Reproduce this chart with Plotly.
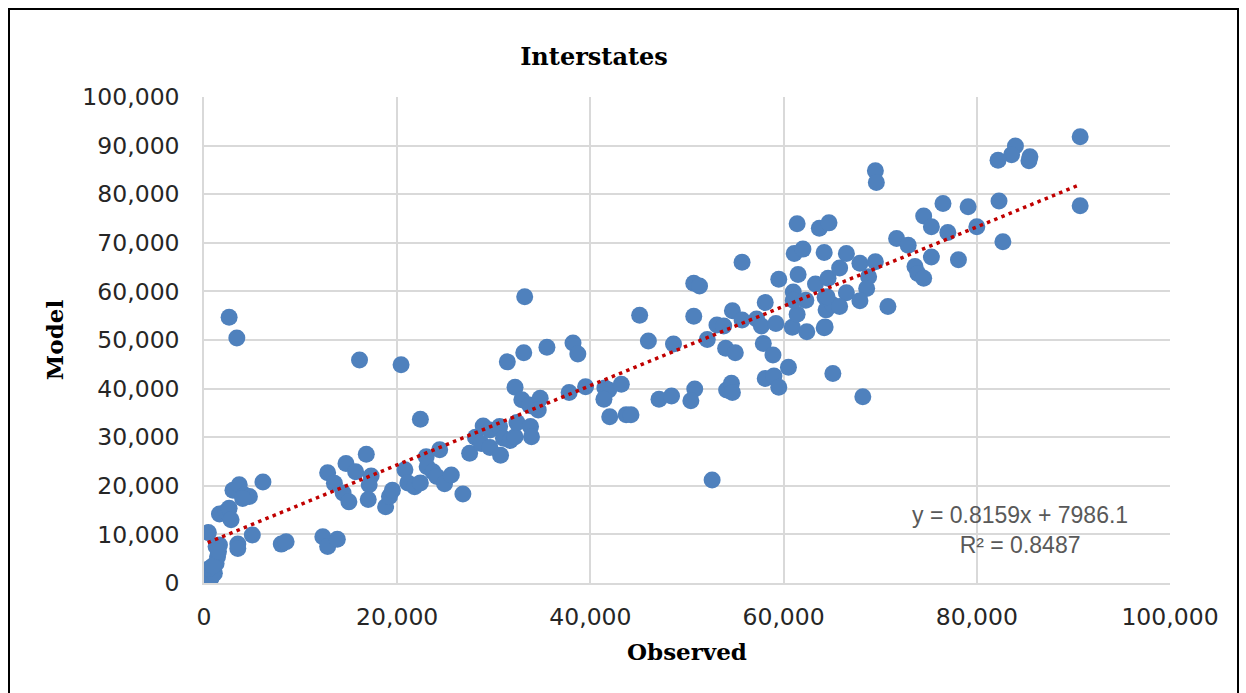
import plotly.graph_objects as go

# Observed (x) and Model (y) values, in thousands
observed_k = [
    0.38, 0.72, 1.07, 0.55, 1.25, 1.4, 1.25, 1.6, 0.45, 0.9, 1.5,
    1.6, 2.3, 2.6, 2.8,
    3.0, 3.65, 4.2, 4.7, 4.0, 6.1,
    5.0, 3.5, 3.5,
    2.6, 3.4,
    8.0, 8.5, 12.3, 12.8, 13.8,
    12.8, 14.7, 15.7, 16.8, 13.5, 14.4, 15.0, 17.3, 17.1, 17.0, 18.8, 19.2, 19.5,
    16.1, 20.4, 22.4,
    20.8, 21.1, 21.8, 22.4,
    23.0, 24.4, 23.1, 23.7, 24.1, 24.9, 25.6, 26.8,
    27.5, 28.1, 28.9, 29.6, 28.7, 29.6, 30.6, 31.0, 30.7, 31.7, 32.2, 32.4, 33.8, 33.9, 33.9,
    32.2, 32.9, 33.7, 34.8, 34.6,
    31.4, 33.1, 35.5, 38.2, 38.7,
    37.8, 39.5,
    33.2,
    41.5, 41.9, 41.4, 43.2, 42.0, 43.7, 44.2,
    45.1, 46.0, 48.6,
    47.1, 48.4, 50.8, 50.4,
    50.7, 51.3, 50.7, 52.1,
    53.1, 53.8, 54.7, 55.7,
    54.0, 55.0,
    54.1, 54.6, 54.7,
    55.7,
    57.2, 57.7, 59.2, 58.1,
    57.9, 58.9,
    58.1, 59.0, 59.5, 60.5,
    59.5,
    60.9, 62.4, 64.2,
    61.4, 61.0, 61.0, 62.3,
    61.5,
    61.1, 62.0, 64.2,
    63.3, 64.6, 64.3, 64.4, 65.1,
    65.1,
    69.5, 69.6,
    61.4, 63.7, 64.7,
    66.5, 65.8,
    67.9, 69.5, 68.8, 68.6, 66.5, 67.9,
    64.5, 65.8, 64.3,
    70.8,
    71.7, 72.9,
    73.6, 73.9, 74.5,
    75.3,
    74.5, 75.3,
    76.5, 77.0, 78.1,
    68.2, 52.6,
    90.7,
    84.0, 83.6, 82.2, 85.5, 85.4,
    82.3, 79.1, 80.0, 82.7, 90.7,
]
model_k = [
    1.3, 1.0, 2.0, 3.0, 4.0, 5.4, 7.5, 7.8, 10.4, 3.5, 6.5,
    14.2, 14.7, 15.4, 13.0,
    19.1, 20.2, 18.1, 17.8, 17.4, 20.8,
    9.9, 8.0, 7.1,
    54.7, 50.4,
    8.0, 8.5, 9.5, 7.5, 9.0,
    22.7, 24.6, 22.9, 26.5, 20.5, 18.5, 16.7, 22.0, 20.2, 17.2, 15.7, 17.8, 19.1,
    45.9, 44.9, 33.7,
    23.3, 20.6, 19.8, 20.6,
    26.0, 27.4, 23.9, 22.9, 21.9, 20.4, 22.2, 18.3,
    26.7, 30.0, 32.3, 31.5, 28.7, 27.9, 32.2, 29.8, 26.3, 29.3, 30.1, 33.0, 32.2, 30.1, 36.4,
    40.3, 37.7, 36.6, 38.0, 35.6,
    45.5, 47.4, 48.5, 49.4, 47.1,
    39.2, 40.4,
    58.9,
    40.1, 39.7, 37.8, 40.9, 34.2, 34.6, 34.6,
    55.1, 49.8, 49.2,
    37.8, 38.5, 39.9, 37.5,
    61.7, 61.1, 54.9, 50.1,
    53.1, 52.9, 56.0, 54.1,
    48.3, 47.4,
    39.7, 41.1, 39.2,
    66.0,
    54.3, 52.9, 53.4, 57.7,
    49.3, 46.9,
    42.1, 42.6, 40.3, 44.4,
    62.5,
    52.6, 51.7, 52.5,
    55.3, 59.9, 58.2, 58.2,
    63.5,
    67.8, 68.7, 68.0,
    61.5, 62.7, 58.8, 56.2, 57.2,
    43.1,
    84.8, 82.4,
    73.9, 73.0, 74.1,
    67.8, 64.8,
    65.8, 66.1, 63.0, 60.6, 59.7, 58.1,
    58.9, 56.9, 52.7,
    56.9,
    70.9, 69.5,
    65.1, 63.7, 62.7,
    67.1,
    75.5, 73.3,
    78.1, 72.1, 66.5,
    38.3, 21.2,
    91.8,
    89.9, 88.1, 87.0, 87.7, 86.9,
    78.6, 77.4, 73.3, 70.2, 77.6,
]
observed = [v * 1000 for v in observed_k]
model = [v * 1000 for v in model_k]

# Linear trendline as reported on the chart
slope = 0.8159
intercept = 7986.1
r_squared = 0.8487

tick_vals_x = [0, 20000, 40000, 60000, 80000, 100000]
tick_vals_y = [0, 10000, 20000, 30000, 40000, 50000, 60000, 70000, 80000, 90000, 100000]

x_min, x_max = min(observed), max(observed)
trend_x = [x_min, x_max]
trend_y = [slope * v + intercept for v in trend_x]

fig = go.Figure()
fig.add_trace(go.Scatter(
    x=observed, y=model, mode="markers",
    marker=dict(color="#4F81BD", size=17, line=dict(width=0)),
    showlegend=False, hoverinfo="x+y",
))
fig.add_trace(go.Scatter(
    x=trend_x, y=trend_y, mode="lines",
    line=dict(color="#C00000", width=3.5, dash="3.5px,4.3px"),
    showlegend=False, hoverinfo="skip",
))

tick_font = dict(family="DejaVu Sans", size=23.5, color="#262626")
title_font = dict(family="DejaVu Serif", size=23, color="#000000")

fig.update_layout(
    width=1246, height=693,
    margin=dict(l=204, r=76, t=97, b=110),
    paper_bgcolor="white", plot_bgcolor="white",
    title=dict(text="<b>Interstates</b>", x=594 / 1246, xanchor="center",
               y=1 - 57 / 693, yanchor="middle",
               font=dict(family="DejaVu Serif", size=24, color="#000000")),
    xaxis=dict(
        range=[0, 100000], tickvals=tick_vals_x, tickformat=",d",
        showgrid=True, gridcolor="#D9D9D9", gridwidth=1.5,
        showline=True, linecolor="#D9D9D9", linewidth=1.5,
        zeroline=False, ticks="", tickfont=tick_font, ticklabelstandoff=12,
        title=dict(text="<b>Observed</b>", font=title_font, standoff=14),
    ),
    yaxis=dict(
        range=[0, 100000], tickvals=tick_vals_y, tickformat=",d",
        showgrid=True, gridcolor="#D9D9D9", gridwidth=1.5,
        showline=True, linecolor="#D9D9D9", linewidth=1.5,
        zeroline=False, ticks="", tickfont=tick_font, ticklabelstandoff=18,
        title=dict(text="<b>Model</b>", font=title_font, standoff=12),
    ),
    annotations=[dict(
        xref="paper", yref="paper", x=(1020 - 204) / 966, y=(583 - 529.5) / 486,
        xanchor="center", yanchor="middle", align="center", showarrow=False,
        text=f"y = {slope}x + {intercept}<br>R² = {r_squared}",
        font=dict(family="Liberation Sans", size=23, color="#595959"),
    )],
    shapes=[dict(
        type="rect", xref="paper", yref="paper",
        x0=(9 - 204) / 966, x1=(1238 - 204) / 966,
        y0=(583 - 720) / 486, y1=(583 - 9) / 486,
        line=dict(color="black", width=2), fillcolor="rgba(0,0,0,0)", layer="above",
    )],
)

fig.write_html("out.html", config={"displayModeBar": False},
               post_script="document.body.style.margin='0px';")
